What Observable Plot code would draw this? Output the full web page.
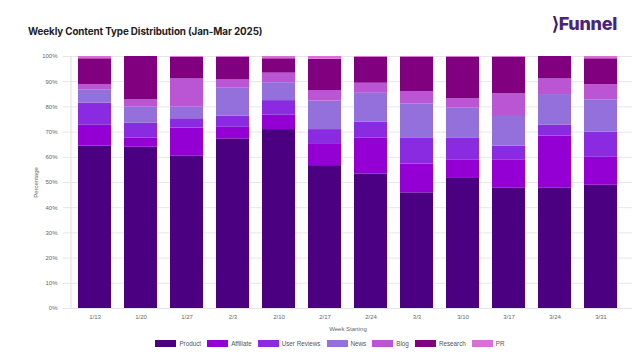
<!DOCTYPE html>
<html>
<head>
<meta charset="utf-8">
<script src="https://cdn.jsdelivr.net/npm/d3@7"></script>
<script src="https://cdn.jsdelivr.net/npm/@observablehq/plot@0.6"></script>
<style>
  html, body { margin: 0; padding: 0; background: #fff; }
  #wrap { position: relative; width: 640px; height: 362px; overflow: hidden; font-family: "Liberation Sans", Arial, sans-serif; }
  #title { position: absolute; left: 28px; top: 26px; font-family: Inter, "Liberation Sans", sans-serif; font-weight: 700; font-size: 9.8px; color: #222; letter-spacing: -0.1px; }
  #logo { position: absolute; left: 552px; top: 13px; font-family: Inter, "Liberation Sans", sans-serif; font-weight: 800; font-size: 18px; color: #4a2478; letter-spacing: -0.3px; }
  #logo span { color: #3a1a66; }
  #chart { position: absolute; left: 0; top: 45px; }
  #legend { position: absolute; left: 10px; top: 340px; width: 640px; display: flex; justify-content: center; gap: 6px; font-size: 6.3px; color: #555; }
  #legend .item { display: flex; align-items: center; gap: 3px; }
  #legend .sw { width: 21px; height: 7px; display: inline-block; }
</style>
</head>
<body>
<div id="wrap">
  <div id="title">Weekly Content Type Distribution (Jan-Mar 2025)</div>
  <div id="logo"><span>&#x27E9;</span>Funnel</div>
  <div id="chart"></div>
  <div id="legend"></div>
</div>
<script>
const weeks = ["1/13","1/20","1/27","2/3","2/10","2/17","2/24","3/3","3/10","3/17","3/24","3/31"];
const seriesNames = ["Product","Affiliate","User Reviews","News","Blog","Research","PR"];
const colors = ["#4B0082","#9400D3","#8A2BE2","#9370DB","#BA55D3","#800080","#DA70D6"];
const product     = [64.5, 64.0, 60.4, 67.3, 71.0, 56.7, 53.4, 45.9, 51.6, 47.7, 47.7, 48.9];
const affiliate   = [ 8.2,  3.7, 11.2,  4.6,  5.7,  8.4, 14.3, 11.4,  7.4, 11.3, 20.7, 11.1];
const userReviews = [ 8.8,  5.8,  3.7,  4.4,  5.8,  5.9,  6.2, 10.2,  8.7,  5.4,  4.3, 10.0];
const news        = [ 5.3,  6.4,  4.6, 11.1,  7.1, 11.3, 11.5, 13.6, 11.8, 11.8, 12.2, 12.8];
const blog        = [ 2.1,  2.9, 11.2,  3.3,  3.8,  4.2,  4.0,  5.0,  3.7,  9.0,  6.2,  6.0];
const research    = [10.2, 17.2,  8.6,  9.0,  5.7, 12.4, 10.3, 13.6, 16.5, 14.5,  8.9, 10.3];
const pr          = [ 0.9,  0.0,  0.3,  0.3,  0.9,  1.1,  0.3,  0.3,  0.3,  0.3,  0.0,  0.9];
const yTicks = [0,10,20,30,40,50,60,70,80,90,100];

const seriesValues = [product, affiliate, userReviews, news, blog, research, pr];
const rows = [];
weeks.forEach((w, i) => {
  seriesNames.forEach((s, j) => rows.push({week: w, type: s, value: seriesValues[j][i]}));
});

const chart = Plot.plot({
  width: 640,
  height: 290,
  marginTop: 11,
  marginBottom: 27,
  marginLeft: 63,
  marginRight: 8,
  style: {fontFamily: "Liberation Sans, Arial, sans-serif", fontSize: "6px", color: "#666"},
  x: {domain: weeks, padding: 0.28},
  y: {domain: [0, 100]},
  color: {domain: seriesNames, range: colors},
  marks: [
    Plot.gridY(yTicks, {stroke: "#e6e6e6", strokeOpacity: 1}),
    Plot.ruleX([weeks[0]], {dx: -24, stroke: "#e0e0e0"}),
    Plot.barY(rows, {x: "week", y: "value", fill: "type", order: seriesNames}),
    Plot.axisX({tickSize: 0, tickPadding: 6, label: "Week Starting", labelArrow: "none", labelAnchor: "center", labelOffset: 22, fill: "#666"}),
    Plot.axisY({ticks: yTicks, tickFormat: d => d + "%", tickSize: 0, tickPadding: 6, label: "Percentage", labelArrow: "none", labelAnchor: "center", labelOffset: 30, fill: "#666"})
  ]
});
document.getElementById("chart").appendChild(chart);

const legend = document.getElementById("legend");
seriesNames.forEach((s, j) => {
  const it = document.createElement("div");
  it.className = "item";
  const sw = document.createElement("span");
  sw.className = "sw";
  sw.style.background = colors[j];
  const t = document.createElement("span");
  t.textContent = s;
  it.appendChild(sw); it.appendChild(t);
  legend.appendChild(it);
});
</script>
</body>
</html>
